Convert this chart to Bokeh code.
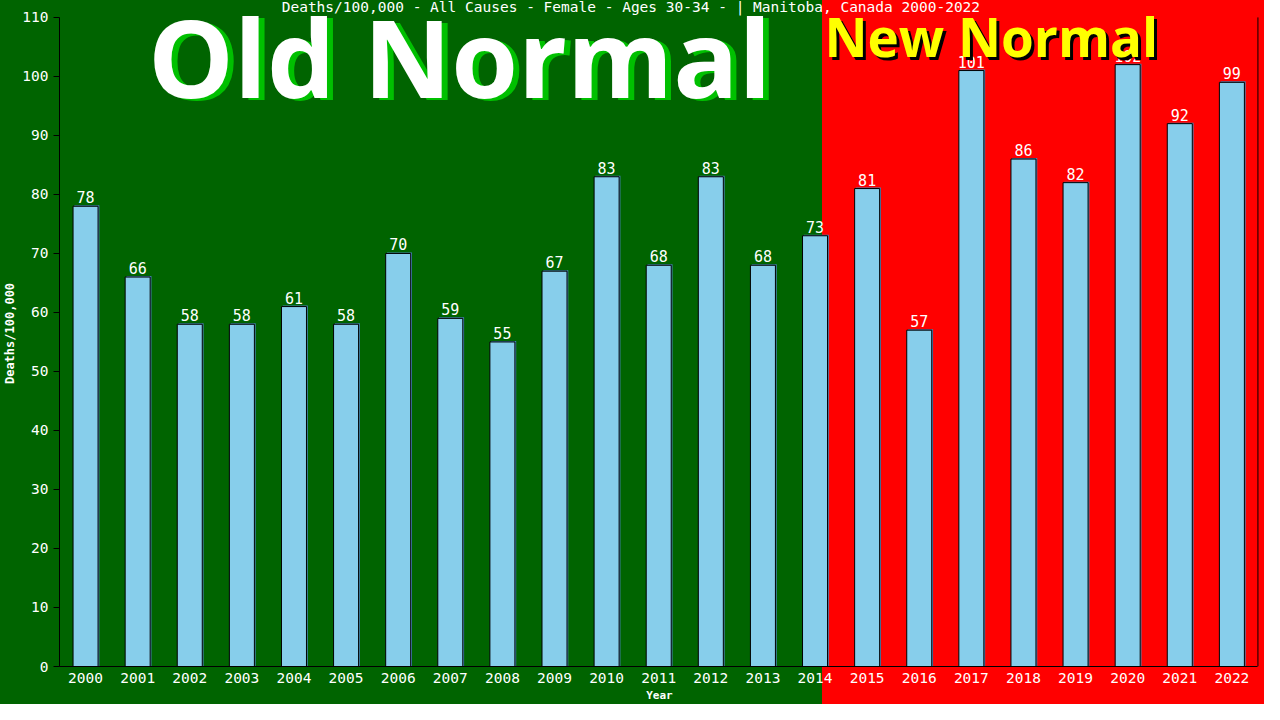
from bokeh.plotting import figure
from bokeh.models import ColumnDataSource, LabelSet, FixedTicker, Range1d
from bokeh.core.properties import value
from bokeh.embed import file_html
from bokeh.resources import INLINE

years = [str(y) for y in range(2000, 2023)]
deaths = [78, 66, 58, 58, 61, 58, 70, 59, 55, 67, 83, 68, 83, 68, 73, 81, 57, 101, 86, 82, 102, 92, 99]
y_ticks = list(range(0, 111, 10))
title_text = "Deaths/100,000 - All Causes - Female - Ages 30-34 -  | Manitoba, Canada 2000-2022"

W, H = 1264, 704
GREEN = "#006400"
RED = "#ff0000"
MONO = "DejaVu Sans Mono"
BIG = "Open Sans"

xs = list(range(len(years)))
src = ColumnDataSource(dict(x=xs, top=deaths, label=[str(v) for v in deaths],
                            xs=[x + 0.025 for x in xs], tops=[v + 0.17 for v in deaths]))

p = figure(width=W, height=H, output_backend="svg", toolbar_location=None,
           x_range=Range1d(-0.5, 22.53), y_range=Range1d(0, 112.87),
           min_border_left=53, min_border_right=5, min_border_top=0, min_border_bottom=35)
p.border_fill_alpha = 0
p.background_fill_alpha = 0
p.outline_line_color = None
p.styles = {"background": f"linear-gradient(to right, {GREEN} 822px, {RED} 822px)"}
p.grid.visible = False


def text_set(x, y, text, color, size, font, style="normal", align="left",
             baseline="bottom"):
    s = ColumnDataSource(dict(x=[x], y=[y], t=[text]))
    p.add_layout(LabelSet(x="x", y="y", text="t", source=s, text_color=color,
                          text_font=value(font), text_font_style=style,
                          text_font_size=size, text_align=align,
                          text_baseline=baseline))


# title
text_set(10.55, 111.8, title_text, "white", "14.5px", MONO, align="center", baseline="middle")

p.vbar(x="xs", top="tops", width=0.48, bottom=0, source=src, fill_color="#4682b4", line_color=None)
p.vbar(x="x", top="top", width=0.48, bottom=0, source=src, fill_color="#87ceeb",
       line_color="black", line_width=1)

labels = LabelSet(x="x", y="top", text="label", source=src, text_align="center",
                  text_baseline="bottom", y_offset=3, text_color="white",
                  text_font=value(MONO), text_font_size="15px")
p.add_layout(labels)

# right frame line
p.segment(x0=[22.5], y0=[0], x1=[22.5], y1=[110], line_color="black", line_width=1)

# axes
p.xaxis.ticker = FixedTicker(ticks=xs)
p.xaxis.major_label_overrides = {i: y for i, y in enumerate(years)}
p.xaxis.axis_label = "Year"
p.xaxis.bounds = (-0.5, 22.5)
p.yaxis.ticker = FixedTicker(ticks=y_ticks)
p.yaxis.axis_label = "Deaths/100,000"
p.yaxis.bounds = (0, 110)
for ax in (p.xaxis[0], p.yaxis[0]):
    ax.axis_line_color = "black"
    ax.major_tick_line_color = "black"
    ax.minor_tick_line_color = None
    ax.major_label_text_color = "white"
    ax.major_label_text_font = MONO
    ax.major_label_text_font_size = "14.5px"
    ax.axis_label_text_color = "white"
    ax.axis_label_text_font = MONO
    ax.axis_label_text_font_style = "bold"
p.xaxis.axis_label_text_font_size = "11px"
p.yaxis.axis_label_text_font_size = "12px"
p.xaxis.major_tick_out = 0
p.xaxis.major_tick_in = 0
p.xaxis.major_label_standoff = 6
p.xaxis.axis_label_standoff = 3
p.yaxis.major_tick_out = 6
p.yaxis.major_tick_in = 0
p.yaxis.major_label_standoff = 5
p.yaxis.axis_label_standoff = 2

# big overlay texts, added last (shadow first, then face)
text_set(1.315, 90.6, "Old Normal", "#00c000", "108px", BIG, "bold")
text_set(1.2, 90.94, "Old Normal", "white", "108px", BIG, "bold")
text_set(14.237, 100.04, "New Normal", "black", "53px", BIG, "bold")
text_set(14.18, 100.55, "New Normal", "#ffff00", "53px", BIG, "bold")

open("out.html", "w").write(file_html(p, INLINE))
